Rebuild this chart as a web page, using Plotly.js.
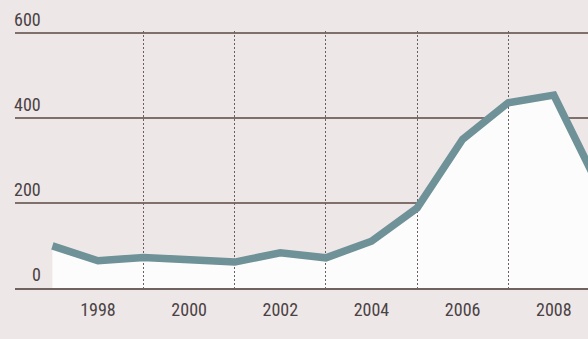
<!DOCTYPE html>
<html>
<head>
<meta charset="utf-8">
<script src="https://cdn.plot.ly/plotly-3.0.1.min.js"></script>
<style>
  html, body { margin: 0; padding: 0; background: #eee7e7; }
  #chart { width: 588px; height: 339px; }
</style>
</head>
<body>
<div id="chart"></div>
<script>
// Data
const years = [1997, 1998, 1999, 2000, 2001, 2002, 2003, 2004, 2005, 2006, 2007, 2008, 2009];
const values = [99, 64, 72, 66, 61, 83, 71, 110, 188, 350, 436, 454, 236];
const labelYears = [1998, 2000, 2002, 2004, 2006, 2008];
const gridYears = [1999, 2001, 2003, 2005, 2007, 2009];
const yTicks = [0, 200, 400, 600];

const FONT = '"Liberation Sans Narrow", "Roboto Condensed", "Open Sans", sans-serif';
const TEXT = '#4a4244';
const xRange = [1996.18, 2008.75];
const yRange = [0, 604.7];

const traces = [
  { // white area under the curve (bottom subplot, above horizontal grid)
    x: years, y: values, type: 'scatter', mode: 'lines',
    fill: 'tozeroy', fillcolor: '#fdfcfc',
    line: { width: 0, color: 'rgba(0,0,0,0)' },
    xaxis: 'x', yaxis: 'y', hoverinfo: 'skip'
  },
  { // the line (top subplot, above dotted vertical grid)
    x: years, y: values, type: 'scatter', mode: 'lines',
    line: { width: 7.5, color: '#6e9297' },
    xaxis: 'x2', yaxis: 'y2', hoverinfo: 'skip'
  }
];

const annotations = yTicks.map(v => ({
  xref: 'paper', yref: 'y', x: 0.048, y: v,
  xanchor: 'right', yanchor: 'bottom', yshift: 1,
  text: String(v), showarrow: false,
  font: { family: FONT, size: 18, color: TEXT }
}));

const layout = {
  width: 588, height: 339,
  margin: { l: 15, r: 0, t: 31, b: 51 },
  paper_bgcolor: '#eee7e7',
  plot_bgcolor: 'rgba(0,0,0,0)',
  showlegend: false,
  font: { family: FONT, color: TEXT },
  xaxis: {
    domain: [0, 1], range: xRange, anchor: 'y',
    tickvals: labelYears, ticktext: labelYears.map(String),
    ticks: '', showgrid: false, zeroline: false, showline: false,
    ticklabelstandoff: 9,
    tickfont: { family: FONT, size: 18, color: TEXT }
  },
  yaxis: {
    domain: [0, 1], range: yRange, anchor: 'x',
    tickvals: yTicks, showticklabels: false, ticks: '',
    showgrid: true, gridcolor: '#7f706c', gridwidth: 1.5, zeroline: false
  },
  xaxis2: {
    domain: [0, 1], range: xRange, anchor: 'y2',
    tickvals: gridYears, showticklabels: false, ticks: '',
    showgrid: true, gridcolor: '#6a6062', gridwidth: 1, griddash: '2px,2px',
    zeroline: false, showline: true, linecolor: '#6f625f', linewidth: 1.5
  },
  yaxis2: {
    domain: [0, 1], range: yRange, anchor: 'x2',
    showgrid: false, showticklabels: false, zeroline: false, ticks: ''
  },
  annotations: annotations
};

Plotly.newPlot('chart', traces, layout, { staticPlot: true, displayModeBar: false });
</script>
</body>
</html>
